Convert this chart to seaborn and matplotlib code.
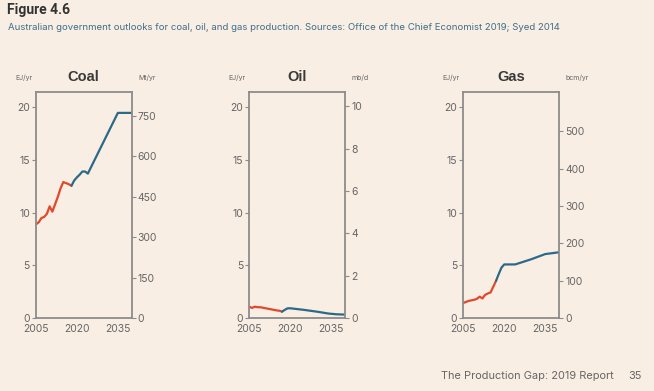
import numpy as np
import pandas as pd
import matplotlib.pyplot as plt
import seaborn as sns

# data (EJ/yr)
coal_hist_years = [2005, 2006, 2007, 2008, 2009, 2010, 2011, 2012, 2013, 2014, 2015, 2016, 2017, 2018]
coal_hist = [8.9, 9.1, 9.5, 9.6, 9.9, 10.6, 10.1, 10.8, 11.5, 12.3, 12.9, 12.8, 12.7, 12.55]
coal_proj_years = [2018, 2019, 2020, 2021, 2022, 2023, 2024, 2035, 2040]
coal_proj = [12.55, 13.05, 13.35, 13.6, 13.9, 13.9, 13.7, 19.45, 19.45]

oil_hist_years = [2005, 2006, 2007, 2008, 2009, 2010, 2011, 2012, 2013, 2014, 2015, 2016, 2017]
oil_hist = [1.1, 0.98, 1.1, 1.05, 1.05, 1.0, 0.95, 0.9, 0.85, 0.8, 0.75, 0.72, 0.63]
oil_proj_years = [2017, 2018, 2019, 2020, 2021, 2025, 2030, 2034, 2037, 2040]
oil_proj = [0.63, 0.8, 0.94, 0.95, 0.92, 0.8, 0.62, 0.45, 0.38, 0.35]

gas_hist_years = [2005, 2006, 2007, 2008, 2009, 2010, 2011, 2012, 2013, 2014, 2015, 2016, 2017]
gas_hist = [1.45, 1.55, 1.65, 1.7, 1.75, 1.85, 2.05, 1.88, 2.22, 2.35, 2.45, 3.0, 3.55]
gas_proj_years = [2017, 2018, 2019, 2020, 2024, 2030, 2035, 2040]
gas_proj = [3.55, 4.2, 4.8, 5.1, 5.1, 5.6, 6.08, 6.25]

panel_names = ["Coal", "Oil", "Gas"]
right_units = ["Mt/yr", "mb/d", "bcm/yr"]
right_ticks = [[0, 150, 300, 450, 600, 750], [0, 2, 4, 6, 8, 10], [0, 100, 200, 300, 400, 500]]
right_max = [838, 10.65, 603.5]  # right-axis value at the top of the EJ scale (21.4)
left_ticks = [0, 5, 10, 15, 20]

BG = "#F8EEE3"
RED = "#E2482C"
BLUE = "#2C6989"
GREY = "#8C8C8C"
TXT = "#666666"

sns.set_style("white")
plt.rcParams["font.family"] = ["Inter", "DejaVu Sans"]

series = {
    "Coal": (coal_hist_years, coal_hist, coal_proj_years, coal_proj),
    "Oil": (oil_hist_years, oil_hist, oil_proj_years, oil_proj),
    "Gas": (gas_hist_years, gas_hist, gas_proj_years, gas_proj),
}

fig = plt.figure(figsize=(6.54, 3.91), dpi=100, facecolor=BG)
lefts = [36, 249.3, 463.3]

for i, name in enumerate(panel_names):
    hy, hv, py, pv = series[name]
    df = pd.concat([
        pd.DataFrame({"year": hy, "value": hv, "kind": "hist"}),
        pd.DataFrame({"year": py, "value": pv, "kind": "proj"}),
    ])
    ax = fig.add_axes([lefts[i] / 654, 72.7 / 391, 95.5 / 654, 226 / 391])
    ax.set_facecolor(BG)
    sns.lineplot(data=df, x="year", y="value", hue="kind", palette={"hist": RED, "proj": BLUE},
                 linewidth=1.6, legend=False, ax=ax)
    ax.set_xlim(2005, 2040)
    ax.set_ylim(0, 21.4)
    ax.set_xlabel("")
    ax.set_ylabel("")
    ax.set_yticks(left_ticks)
    ax.set_xticks(range(2005, 2041, 5))
    ax.set_xticklabels(["2005", "", "", "2020", "", "", "2035", ""])
    ax.tick_params(axis="both", direction="out", length=3, width=0.8, color=GREY,
                   labelsize=7.5, labelcolor=TXT, pad=1.5)
    ax.tick_params(axis="x", pad=1)
    for s in ax.spines.values():
        s.set_color(GREY)
        s.set_linewidth(1.3)

    ax2 = ax.twinx()
    ax2.set_ylim(0, right_max[i])
    ax2.set_yticks(right_ticks[i])
    ax2.tick_params(axis="y", direction="out", length=3, width=0.8, color=GREY,
                    labelsize=7.5, labelcolor=TXT, pad=1.5)
    for s in ax2.spines.values():
        s.set_visible(False)

    ax.text(0.5, 1.035, name, transform=ax.transAxes, ha="center", va="bottom",
            fontsize=10.5, fontweight="bold", color="#3A3A3A", family="Liberation Sans")
    ax.text(-0.22, 1.05, "EJ/yr", transform=ax.transAxes, ha="left", va="bottom",
            fontsize=5, color=TXT)
    ax.text(1.07, 1.05, right_units[i], transform=ax.transAxes, ha="left", va="bottom",
            fontsize=5, color=TXT)

fig.text(7 / 654, 1 - 10 / 391, "Figure 4.6", ha="left", va="center",
         fontsize=10, fontweight="bold", color="#333333", family="Roboto")
fig.text(8 / 654, 1 - 28 / 391,
         "Australian government outlooks for coal, oil, and gas production. Sources: Office of the Chief Economist 2019; Syed 2014",
         ha="left", va="center", fontsize=6.9, color="#3D6E8A")
fig.text(441 / 654, 1 - 376 / 391, "The Production Gap: 2019 Report", ha="left", va="center",
         fontsize=7.9, color=TXT)
fig.text(628 / 654, 1 - 376 / 391, "35", ha="left", va="center", fontsize=7.9, color=TXT)

fig.savefig("out.png", dpi=100, facecolor=BG)
